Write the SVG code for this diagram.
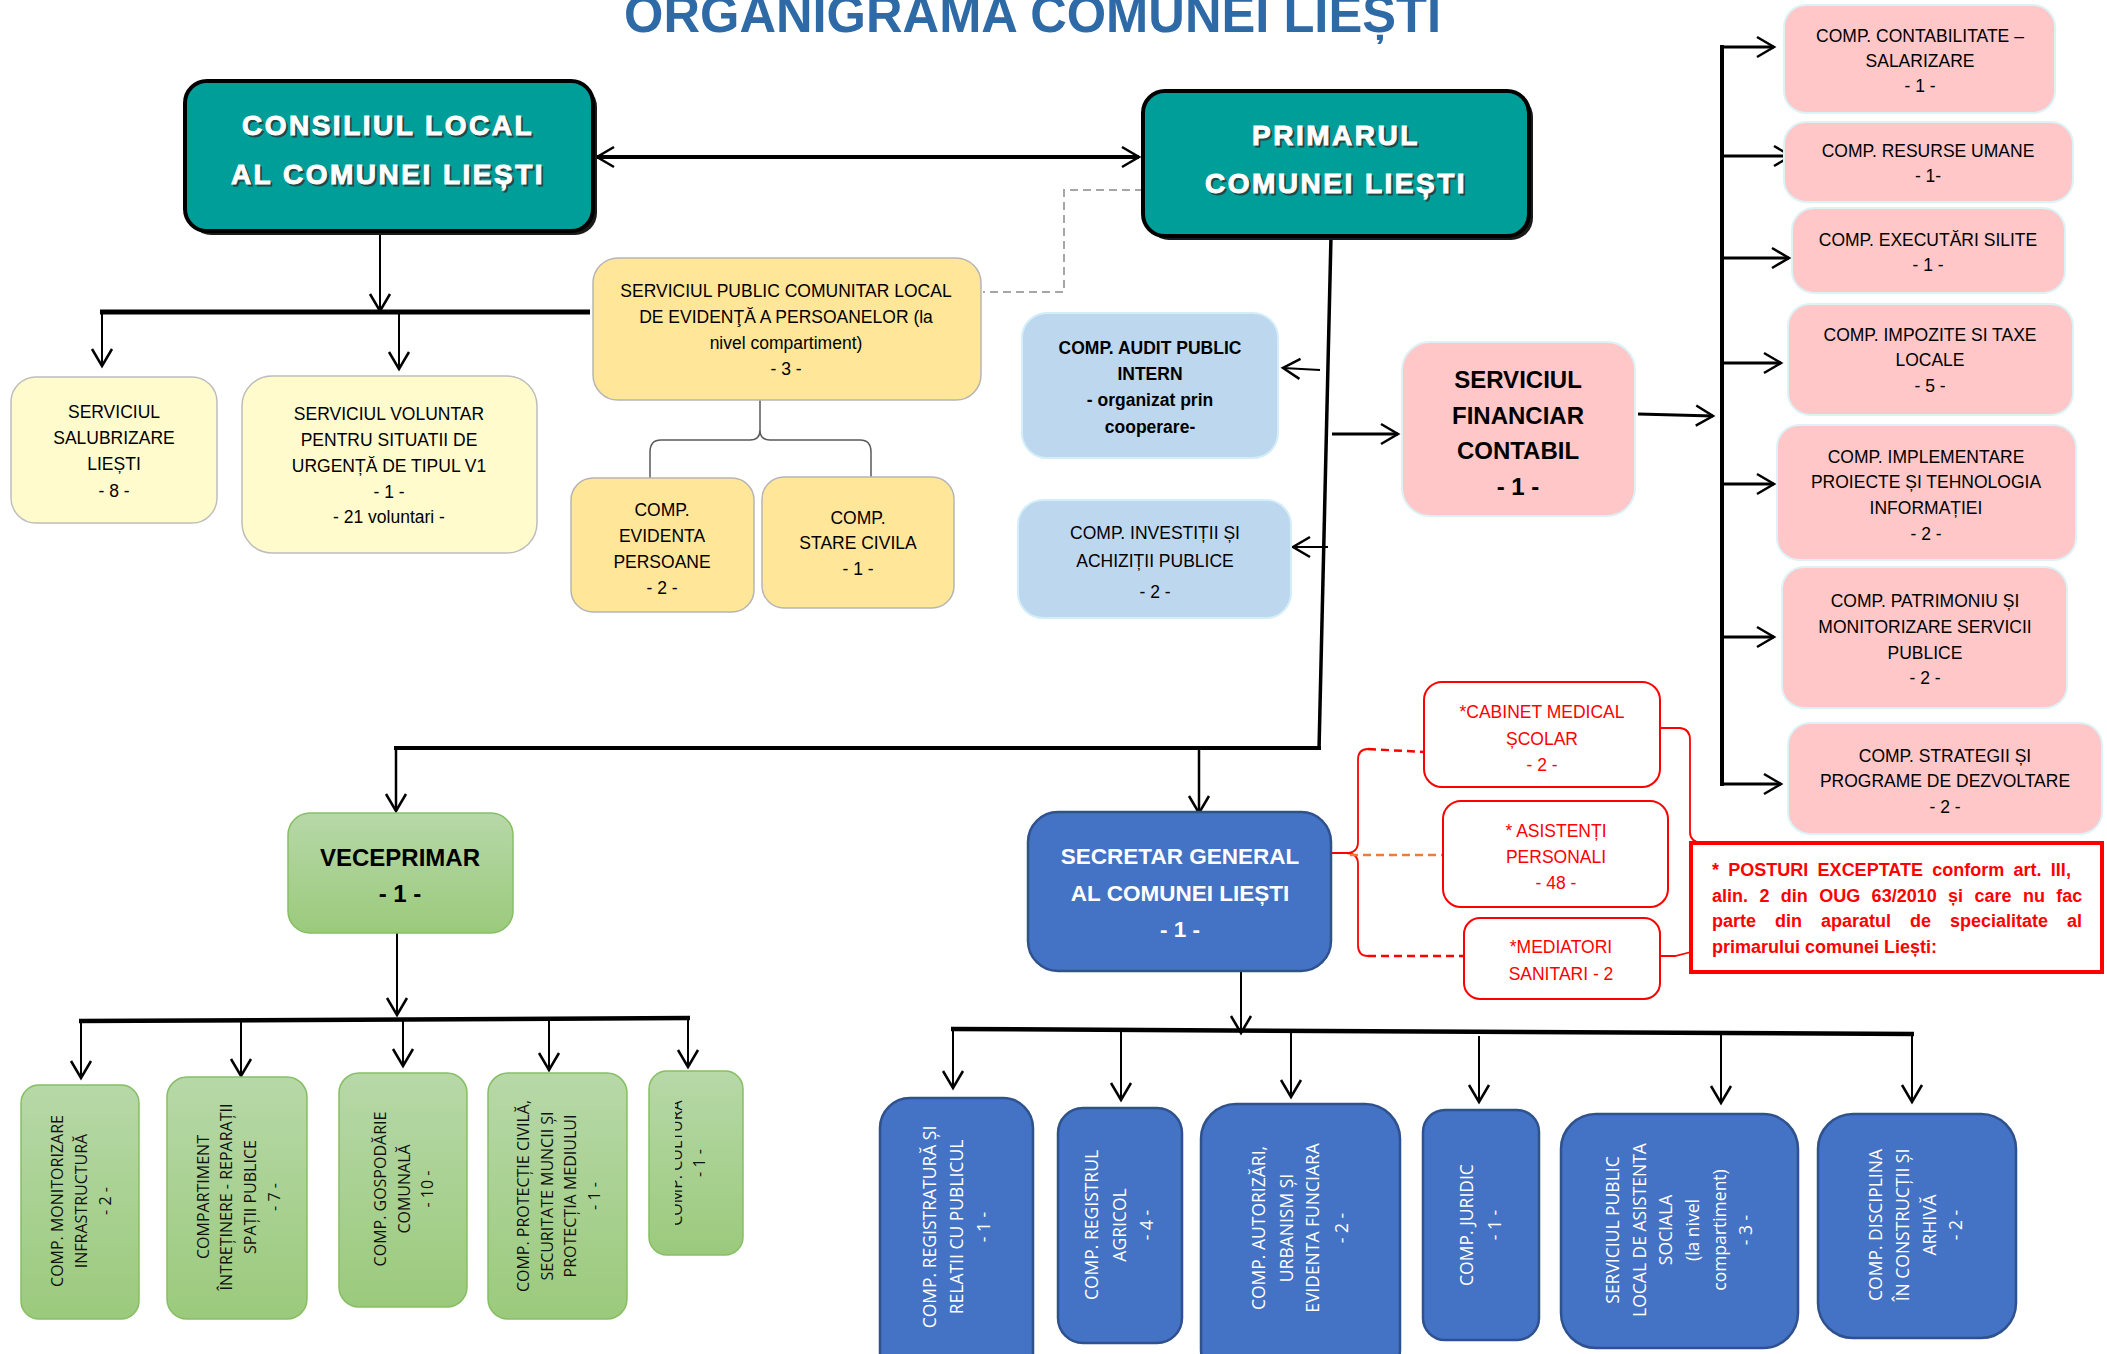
<svg xmlns="http://www.w3.org/2000/svg" width="2107" height="1354" viewBox="0 0 2107 1354">
<defs>
<style>
text{font-family:"Liberation Sans",Arial,sans-serif;}
.c{text-anchor:middle}
.r17{font-size:17.5px;fill:#000}
.b{font-weight:bold}
.teal{fill:#009E99;stroke:#000;stroke-width:4}
.sh{fill:#1a1a1a}
.ttl{font-size:28px;font-weight:bold;fill:#fff;stroke:#fff;stroke-width:1;letter-spacing:2.5px;text-anchor:middle}
.ttls{font-size:28px;font-weight:bold;fill:#2a2a2a;stroke:#2a2a2a;stroke-width:1;letter-spacing:2.5px;text-anchor:middle;opacity:.75}
.pink{fill:#FFC7C7;stroke:#DDF2F6;stroke-width:2}
.lblue{fill:#BDD7EE;stroke:#D3EEF8;stroke-width:2}
.ylw{fill:#FFE699;stroke:#B5B5B5;stroke-width:1.5}
.pale{fill:#FFFBCC;stroke:#BDBDBD;stroke-width:1.5}
.grn{fill:url(#gg);stroke:#86BE63;stroke-width:1.5}
.dblue{fill:#4472C4;stroke:#2F528F;stroke-width:2.5}
.redb{fill:#fff;stroke:#FF0000;stroke-width:2}
.rt{font-size:17.5px;fill:#FF0000;text-anchor:middle}
.vt{font-family:"Open Sans","DejaVu Sans",sans-serif;text-anchor:middle}
.vg{font-size:16px;fill:#111}
.vb{font-size:17.5px;fill:#fff}
.ln{fill:none;stroke:#000}
.note{font-size:18px;font-weight:bold;fill:#FF0000}
</style>
<linearGradient id="gg" x1="0" y1="0" x2="0" y2="1"><stop offset="0" stop-color="#B7D8A8"/><stop offset="1" stop-color="#9BCA7C"/></linearGradient>
<marker id="ah" markerUnits="userSpaceOnUse" markerWidth="24" markerHeight="24" refX="20" refY="12" orient="auto-start-reverse"><path d="M3,2 L20,12 L3,22" fill="none" stroke="#000" stroke-width="2.5"/></marker>
<clipPath id="cc"><rect x="675" y="1060" width="80" height="200"/></clipPath>
</defs>
<rect width="2107" height="1354" fill="#fff"/>

<text id="title" x="624" y="32" font-size="52" font-weight="bold" fill="#2E6AA6" textLength="817" lengthAdjust="spacingAndGlyphs">ORGANIGRAMA COMUNEI LIEȘTI</text>

<g id="connectors">
<line x1="597" y1="157" x2="1139" y2="157" class="ln" stroke-width="4" marker-start="url(#ah)" marker-end="url(#ah)"/>
<line x1="380" y1="231" x2="380" y2="311" class="ln" stroke-width="2" marker-end="url(#ah)"/>
<line x1="100" y1="312" x2="590" y2="312" class="ln" stroke-width="5"/>
<line x1="102" y1="312" x2="102" y2="366" class="ln" stroke-width="2" marker-end="url(#ah)"/>
<line x1="399" y1="312" x2="399" y2="369" class="ln" stroke-width="2" marker-end="url(#ah)"/>
<path d="M1143,190 L1064,190 L1064,292 L983,292" fill="none" stroke="#A6A6A6" stroke-width="2" stroke-dasharray="8,5"/>
<path d="M760,400 L760,430 Q760,440 750,440 L661,440 Q650,440 650,452 L650,478 M760,430 Q760,440 770,440 L860,440 Q871,440 871,452 L871,478" fill="none" stroke="#595959" stroke-width="1.5"/>
<line x1="1331" y1="236" x2="1319" y2="750" class="ln" stroke-width="3.5"/>
<line x1="1321" y1="748" x2="394" y2="748" class="ln" stroke-width="4"/>
<line x1="396" y1="748" x2="396" y2="811" class="ln" stroke-width="2.5" marker-end="url(#ah)"/>
<line x1="1199" y1="748" x2="1199" y2="813" class="ln" stroke-width="2.5" marker-end="url(#ah)"/>
<line x1="1320" y1="370" x2="1283" y2="368" class="ln" stroke-width="2" marker-end="url(#ah)"/>
<line x1="1328" y1="547" x2="1293" y2="547" class="ln" stroke-width="2" marker-end="url(#ah)"/>
<line x1="1332" y1="434" x2="1398" y2="434" class="ln" stroke-width="3" marker-end="url(#ah)"/>
<line x1="1638" y1="414" x2="1713" y2="416" class="ln" stroke-width="3" marker-end="url(#ah)"/>
<line x1="1722" y1="45" x2="1722" y2="786" class="ln" stroke-width="4"/>
<line x1="1722" y1="47" x2="1774" y2="47" class="ln" stroke-width="3" marker-end="url(#ah)"/>
<line x1="1722" y1="156" x2="1791" y2="156" class="ln" stroke-width="3" marker-end="url(#ah)"/>
<line x1="1722" y1="258" x2="1789" y2="258" class="ln" stroke-width="3" marker-end="url(#ah)"/>
<line x1="1722" y1="363" x2="1781" y2="363" class="ln" stroke-width="3" marker-end="url(#ah)"/>
<line x1="1722" y1="484" x2="1774" y2="484" class="ln" stroke-width="3" marker-end="url(#ah)"/>
<line x1="1722" y1="637" x2="1774" y2="637" class="ln" stroke-width="3" marker-end="url(#ah)"/>
<line x1="1720" y1="784" x2="1781" y2="784" class="ln" stroke-width="3" marker-end="url(#ah)"/>
<line x1="397" y1="933" x2="397" y2="1015" class="ln" stroke-width="2" marker-end="url(#ah)"/>
<line x1="79" y1="1021" x2="690" y2="1018" class="ln" stroke-width="4.5"/>
<line x1="81" y1="1021" x2="81" y2="1078" class="ln" stroke-width="2" marker-end="url(#ah)"/>
<line x1="241" y1="1020" x2="241" y2="1076" class="ln" stroke-width="2" marker-end="url(#ah)"/>
<line x1="403" y1="1020" x2="403" y2="1066" class="ln" stroke-width="2" marker-end="url(#ah)"/>
<line x1="549" y1="1019" x2="549" y2="1070" class="ln" stroke-width="2" marker-end="url(#ah)"/>
<line x1="688" y1="1018" x2="688" y2="1067" class="ln" stroke-width="2" marker-end="url(#ah)"/>
<line x1="1241" y1="971" x2="1241" y2="1033" class="ln" stroke-width="2" marker-end="url(#ah)"/>
<line x1="951" y1="1029" x2="1914" y2="1034" class="ln" stroke-width="4.5"/>
<line x1="953" y1="1029" x2="953" y2="1088" class="ln" stroke-width="2" marker-end="url(#ah)"/>
<line x1="1121" y1="1030" x2="1121" y2="1100" class="ln" stroke-width="2" marker-end="url(#ah)"/>
<line x1="1291" y1="1031" x2="1291" y2="1097" class="ln" stroke-width="2" marker-end="url(#ah)"/>
<line x1="1479" y1="1036" x2="1479" y2="1102" class="ln" stroke-width="2" marker-end="url(#ah)"/>
<line x1="1721" y1="1033" x2="1721" y2="1103" class="ln" stroke-width="2" marker-end="url(#ah)"/>
<line x1="1912" y1="1034" x2="1912" y2="1102" class="ln" stroke-width="2" marker-end="url(#ah)"/>
<path d="M1331,853 L1346,853 Q1358,853 1358,842 L1358,760 Q1358,749 1368,749 M1346,853 Q1358,853 1358,864 L1358,945 Q1358,956 1368,956" fill="none" stroke="#FF0000" stroke-width="1.8"/>
<line x1="1368" y1="749" x2="1424" y2="752" stroke="#FF0000" stroke-width="2.5" stroke-dasharray="8,5"/>
<line x1="1350" y1="855" x2="1443" y2="855" stroke="#ED7D31" stroke-width="2.5" stroke-dasharray="8,5"/>
<line x1="1368" y1="956" x2="1464" y2="956" stroke="#FF0000" stroke-width="2.5" stroke-dasharray="8,5"/>
<path d="M1660,728 L1680,728 Q1690,729 1690,740 L1690,832 Q1690,842 1702,843 M1660,956 L1675,956 L1691,952" fill="none" stroke="#FF0000" stroke-width="1.8"/>
</g>

<g id="consiliul">
<rect x="189" y="85" width="408" height="150" rx="22" class="sh"/>
<rect x="185" y="81" width="408" height="150" rx="22" class="teal"/>
<text x="390" y="137" class="ttls">CONSILIUL LOCAL</text>
<text x="390" y="186" class="ttls">AL COMUNEI LIEȘTI</text>
<text x="388" y="135" class="ttl">CONSILIUL LOCAL</text>
<text x="388" y="184" class="ttl">AL COMUNEI LIEȘTI</text>
</g>

<g id="primarul">
<rect x="1147" y="95" width="386" height="145" rx="22" class="sh"/>
<rect x="1143" y="91" width="386" height="145" rx="22" class="teal"/>
<text x="1338" y="147" class="ttls">PRIMARUL</text>
<text x="1338" y="195" class="ttls">COMUNEI LIEȘTI</text>
<text x="1336" y="145" class="ttl">PRIMARUL</text>
<text x="1336" y="193" class="ttl">COMUNEI LIEȘTI</text>
</g>

<g id="salubrizare">
<rect x="11" y="377" width="206" height="146" rx="25" class="pale"/>
<text class="c r17" x="114" y="418">SERVICIUL</text>
<text class="c r17" x="114" y="444">SALUBRIZARE</text>
<text class="c r17" x="114" y="470">LIEȘTI</text>
<text class="c r17" x="114" y="497">- 8 -</text>
</g>

<g id="voluntar">
<rect x="242" y="376" width="295" height="177" rx="30" class="pale"/>
<text class="c r17" x="389" y="420">SERVICIUL VOLUNTAR</text>
<text class="c r17" x="389" y="446">PENTRU SITUATII DE</text>
<text class="c r17" x="389" y="472">URGENȚĂ DE TIPUL V1</text>
<text class="c r17" x="389" y="498">- 1 -</text>
<text class="c r17" x="389" y="523">- 21 voluntari -</text>
</g>

<g id="spclep">
<rect x="593" y="258" width="388" height="142" rx="25" class="ylw"/>
<text class="c r17" x="786" y="297">SERVICIUL PUBLIC COMUNITAR LOCAL</text>
<text class="c r17" x="786" y="323">DE EVIDENŢĂ A PERSOANELOR (la</text>
<text class="c r17" x="786" y="349">nivel  compartiment)</text>
<text class="c r17" x="786" y="375">- 3 -</text>
</g>

<g id="evidenta">
<rect x="571" y="478" width="183" height="134" rx="22" class="ylw"/>
<text class="c r17" x="662" y="516">COMP.</text>
<text class="c r17" x="662" y="542">EVIDENTA</text>
<text class="c r17" x="662" y="568">PERSOANE</text>
<text class="c r17" x="662" y="594">- 2 -</text>
</g>

<g id="starecivila">
<rect x="762" y="477" width="192" height="131" rx="22" class="ylw"/>
<text class="c r17" x="858" y="524">COMP.</text>
<text class="c r17" x="858" y="549">STARE CIVILA</text>
<text class="c r17" x="858" y="575">- 1 -</text>
</g>

<g id="audit">
<rect x="1022" y="313" width="256" height="145" rx="25" class="lblue"/>
<text class="c r17 b" x="1150" y="354">COMP. AUDIT PUBLIC</text>
<text class="c r17 b" x="1150" y="380">INTERN</text>
<text class="c r17 b" x="1150" y="406">- organizat prin</text>
<text class="c r17 b" x="1150" y="433">cooperare-</text>
</g>

<g id="investitii">
<rect x="1018" y="500" width="273" height="118" rx="25" class="lblue"/>
<text class="c r17" x="1155" y="539">COMP. INVESTIȚII ȘI</text>
<text class="c r17" x="1155" y="567">ACHIZIȚII PUBLICE</text>
<text class="c r17" x="1155" y="598">- 2 -</text>
</g>

<g id="financiar">
<rect x="1402" y="342" width="233" height="174" rx="28" class="pink"/>
<text class="c b" font-size="24" x="1518" y="388">SERVICIUL</text>
<text class="c b" font-size="24" x="1518" y="424">FINANCIAR</text>
<text class="c b" font-size="24" x="1518" y="459">CONTABIL</text>
<text class="c b" font-size="24" x="1518" y="495">- 1 -</text>
</g>

<g id="contabilitate">
<rect x="1784" y="5" width="271" height="108" rx="22" class="pink"/>
<text class="c r17" x="1920" y="42">COMP. CONTABILITATE –</text>
<text class="c r17" x="1920" y="67">SALARIZARE</text>
<text class="c r17" x="1920" y="92">- 1 -</text>
</g>

<g id="resurse">
<rect x="1784" y="122" width="289" height="80" rx="22" class="pink"/>
<text class="c r17" x="1928" y="157">COMP. RESURSE UMANE</text>
<text class="c r17" x="1928" y="182">- 1-</text>
</g>

<g id="executari">
<rect x="1792" y="208" width="273" height="85" rx="22" class="pink"/>
<text class="c r17" x="1928" y="246">COMP. EXECUTĂRI SILITE</text>
<text class="c r17" x="1928" y="271">- 1 -</text>
</g>

<g id="impozite">
<rect x="1788" y="304" width="285" height="111" rx="22" class="pink"/>
<text class="c r17" x="1930" y="341">COMP. IMPOZITE SI TAXE</text>
<text class="c r17" x="1930" y="366">LOCALE</text>
<text class="c r17" x="1930" y="392">- 5 -</text>
</g>

<g id="implementare">
<rect x="1777" y="425" width="299" height="135" rx="22" class="pink"/>
<text class="c r17" x="1926" y="463">COMP. IMPLEMENTARE</text>
<text class="c r17" x="1926" y="488">PROIECTE ȘI TEHNOLOGIA</text>
<text class="c r17" x="1926" y="514">INFORMAȚIEI</text>
<text class="c r17" x="1926" y="540">- 2 -</text>
</g>

<g id="patrimoniu">
<rect x="1782" y="567" width="285" height="141" rx="22" class="pink"/>
<text class="c r17" x="1925" y="607">COMP. PATRIMONIU ȘI</text>
<text class="c r17" x="1925" y="633">MONITORIZARE SERVICII</text>
<text class="c r17" x="1925" y="659">PUBLICE</text>
<text class="c r17" x="1925" y="684">- 2 -</text>
</g>

<g id="strategii">
<rect x="1788" y="723" width="314" height="111" rx="22" class="pink"/>
<text class="c r17" x="1945" y="762">COMP. STRATEGII ȘI</text>
<text class="c r17" x="1945" y="787">PROGRAME DE DEZVOLTARE</text>
<text class="c r17" x="1945" y="813">- 2 -</text>
</g>

<g id="cabinet">
<rect x="1424" y="682" width="236" height="105" rx="18" class="redb"/>
<text class="rt" x="1542" y="718">*CABINET MEDICAL</text>
<text class="rt" x="1542" y="745">ȘCOLAR</text>
<text class="rt" x="1542" y="771">- 2 -</text>
</g>

<g id="asistenti">
<rect x="1443" y="801" width="225" height="106" rx="18" class="redb"/>
<text class="rt" x="1556" y="837">* ASISTENȚI</text>
<text class="rt" x="1556" y="863">PERSONALI</text>
<text class="rt" x="1556" y="889">- 48 -</text>
</g>

<g id="mediatori">
<rect x="1464" y="918" width="196" height="81" rx="16" class="redb"/>
<text class="rt" x="1561" y="953">*MEDIATORI</text>
<text class="rt" x="1561" y="980">SANITARI - 2</text>
</g>

<g id="nota">
<rect x="1691" y="843" width="411" height="129" fill="#fff" stroke="#FF0000" stroke-width="4"/>
<text class="note" x="1712" y="876" word-spacing="4.3">* POSTURI EXCEPTATE conform art. III,</text>
<text class="note" x="1712" y="902" word-spacing="6.4">alin. 2 din OUG 63/2010 și care nu fac</text>
<text class="note" x="1712" y="927" word-spacing="14">parte din aparatul de specialitate al</text>
<text class="note" x="1712" y="953">primarului comunei Liești:</text>
</g>

<g id="viceprimar">
<rect x="288" y="813" width="225" height="120" rx="22" class="grn"/>
<text class="c b" font-size="24" x="400" y="866">VECEPRIMAR</text>
<text class="c b" font-size="24" x="400" y="902">- 1 -</text>
</g>

<g id="monitorizare">
<rect x="21" y="1085" width="118" height="234" rx="18" class="grn"/>
<g transform="translate(80,1201) rotate(-90)">
<text class="vt vg" y="-17.3">COMP. MONITORIZARE</text>
<text class="vt vg" y="6.7">INFRASTRUCTURĂ</text>
<text class="vt vg" y="30.7">- 2 -</text>
</g>
</g>

<g id="intretinere">
<rect x="167" y="1077" width="140" height="242" rx="20" class="grn"/>
<g transform="translate(237,1197) rotate(-90)">
<text class="vt vg" y="-28.3">COMPARTIMENT</text>
<text class="vt vg" y="-5.3">ÎNTREȚINERE - REPARAȚII</text>
<text class="vt vg" y="18.7">SPAȚII PUBLICE</text>
<text class="vt vg" y="42.7">- 7 -</text>
</g>
</g>

<g id="gospodarie">
<rect x="339" y="1073" width="128" height="234" rx="20" class="grn"/>
<g transform="translate(403,1189) rotate(-90)">
<text class="vt vg" y="-17.3">COMP. GOSPODĂRIE</text>
<text class="vt vg" y="6.7">COMUNALĂ</text>
<text class="vt vg" y="29.7">- 10 -</text>
</g>
</g>

<g id="protectie">
<rect x="488" y="1073" width="139" height="246" rx="20" class="grn"/>
<g transform="translate(557,1196) rotate(-90)">
<text class="vt vg" y="-28.3">COMP. PROTECȚIE CIVILĂ,</text>
<text class="vt vg" y="-4.3">SECURITATE MUNCII ȘI</text>
<text class="vt vg" y="18.7">PROTECȚIA MEDIULUI</text>
<text class="vt vg" y="42.7">- 1 -</text>
</g>
</g>

<g id="cultura">
<rect x="649" y="1071" width="94" height="184" rx="18" class="grn"/>
<g clip-path="url(#cc)">
<g transform="translate(696,1163) rotate(-90)">
<text class="vt vg" y="-14">COMP. CULTURĂ</text>
</g>
</g>
<g transform="translate(696,1163) rotate(-90)">
<text class="vt vg" y="8.7">- 1 -</text>
</g>
</g>

<g id="secretar">
<rect x="1028" y="812" width="303" height="159" rx="30" class="dblue"/>
<text class="c b" font-size="22.5" fill="#fff" x="1180" y="864">SECRETAR GENERAL</text>
<text class="c b" font-size="22.5" fill="#fff" x="1180" y="901">AL COMUNEI LIEȘTI</text>
<text class="c b" font-size="22.5" fill="#fff" x="1180" y="937">- 1 -</text>
</g>

<g id="registratura">
<rect x="880" y="1098" width="153" height="290" rx="30" class="dblue"/>
<g transform="translate(956,1227) rotate(-90)">
<text class="vt vb" y="-19.75">COMP. REGISTRATURĂ ȘI</text>
<text class="vt vb" y="7.25">RELATII CU PUBLICUL</text>
<text class="vt vb" y="34.25">- 1 -</text>
</g>
</g>

<g id="agricol">
<rect x="1058" y="1108" width="124" height="235" rx="25" class="dblue"/>
<g transform="translate(1120,1225) rotate(-90)">
<text class="vt vb" y="-21.75">COMP. REGISTRUL</text>
<text class="vt vb" y="6.25">AGRICOL</text>
<text class="vt vb" y="33.25">- 4 -</text>
</g>
</g>

<g id="autorizari">
<rect x="1201" y="1104" width="199" height="280" rx="35" class="dblue"/>
<g transform="translate(1300,1228) rotate(-90)">
<text class="vt vb" y="-34.75">COMP. AUTORIZĂRI,</text>
<text class="vt vb" y="-6.75">URBANISM ȘI</text>
<text class="vt vb" y="19.25">EVIDENTA  FUNCIARA</text>
<text class="vt vb" y="48.25">- 2 -</text>
</g>
</g>

<g id="juridic">
<rect x="1423" y="1110" width="116" height="230" rx="22" class="dblue"/>
<g transform="translate(1481,1225) rotate(-90)">
<text class="vt vb" y="-7.75">COMP. JURIDIC</text>
<text class="vt vb" y="20.25">- 1 -</text>
</g>
</g>

<g id="asistenta">
<rect x="1561" y="1114" width="237" height="234" rx="35" class="dblue"/>
<g transform="translate(1680,1230) rotate(-90)">
<text class="vt vb" y="-60.75">SERVICIUL PUBLIC</text>
<text class="vt vb" y="-33.75">LOCAL DE ASISTENTA</text>
<text class="vt vb" y="-7.75">SOCIALA</text>
<text class="vt vb" y="19.25">(la nivel</text>
<text class="vt vb" y="46.25">compartiment)</text>
<text class="vt vb" y="72.25">- 3 -</text>
</g>
</g>

<g id="disciplina">
<rect x="1818" y="1114" width="198" height="224" rx="35" class="dblue"/>
<g transform="translate(1917,1225) rotate(-90)">
<text class="vt vb" y="-34.75">COMP.  DISCIPLINA</text>
<text class="vt vb" y="-7.75">ÎN CONSTRUCȚII ȘI</text>
<text class="vt vb" y="19.25">ARHIVĂ</text>
<text class="vt vb" y="45.25">- 2 -</text>
</g>
</g>
</svg>
